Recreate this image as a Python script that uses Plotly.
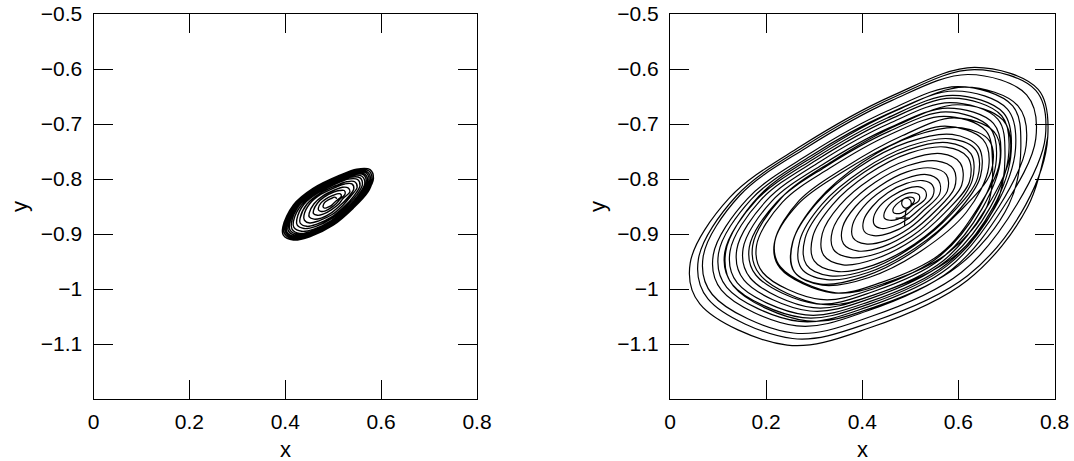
import plotly.graph_objects as go

# ---------------- data ----------------
x_ticks = [0, 0.2, 0.4, 0.6, 0.8]
x_tick_labels = ["0", "0.2", "0.4", "0.6", "0.8"]
y_ticks = [-1.1, -1.0, -0.9, -0.8, -0.7, -0.6, -0.5]
y_tick_labels = ["\u22121.1", "\u22121", "\u22120.9", "\u22120.8", "\u22120.7", "\u22120.6", "\u22120.5"]
x_title = "x"
y_title = "y"

# Left panel: orbit loops, inner -> outer
left_loops_x = [
    [0.507, 0.506, 0.502, 0.497, 0.488, 0.482, 0.479, 0.479, 0.482, 0.487, 0.495, 0.501, 0.506],
    [0.517, 0.515, 0.508, 0.499, 0.485, 0.475, 0.469, 0.470, 0.475, 0.484, 0.496, 0.506, 0.514],
    [0.525, 0.523, 0.513, 0.501, 0.481, 0.467, 0.459, 0.459, 0.467, 0.479, 0.496, 0.511, 0.521],
    [0.535, 0.531, 0.519, 0.503, 0.478, 0.460, 0.450, 0.450, 0.460, 0.475, 0.497, 0.516, 0.530],
    [0.543, 0.539, 0.524, 0.505, 0.474, 0.451, 0.439, 0.440, 0.451, 0.470, 0.497, 0.520, 0.537],
    [0.550, 0.545, 0.528, 0.506, 0.471, 0.445, 0.431, 0.431, 0.445, 0.466, 0.497, 0.523, 0.543],
    [0.556, 0.551, 0.532, 0.508, 0.469, 0.439, 0.424, 0.425, 0.439, 0.464, 0.498, 0.527, 0.549],
    [0.561, 0.556, 0.534, 0.508, 0.466, 0.434, 0.417, 0.418, 0.434, 0.460, 0.497, 0.529, 0.553],
    [0.566, 0.560, 0.537, 0.509, 0.464, 0.430, 0.413, 0.414, 0.430, 0.459, 0.498, 0.532, 0.557],
    [0.569, 0.563, 0.540, 0.510, 0.463, 0.428, 0.409, 0.410, 0.428, 0.457, 0.498, 0.534, 0.560],
    [0.572, 0.566, 0.542, 0.511, 0.462, 0.425, 0.406, 0.407, 0.425, 0.456, 0.499, 0.536, 0.563],
    [0.575, 0.569, 0.543, 0.512, 0.461, 0.423, 0.403, 0.404, 0.423, 0.455, 0.499, 0.537, 0.565],
    [0.578, 0.571, 0.545, 0.513, 0.460, 0.421, 0.400, 0.402, 0.421, 0.454, 0.499, 0.539, 0.568],
    [0.581, 0.574, 0.547, 0.513, 0.459, 0.419, 0.397, 0.399, 0.419, 0.452, 0.500, 0.540, 0.571],
    [0.584, 0.577, 0.549, 0.514, 0.458, 0.417, 0.395, 0.396, 0.417, 0.451, 0.500, 0.542, 0.573, 0.584],
]
left_loops_y = [
    [-0.836, -0.834, -0.833, -0.835, -0.839, -0.843, -0.849, -0.851, -0.853, -0.852, -0.849, -0.844, -0.840],
    [-0.831, -0.827, -0.827, -0.830, -0.836, -0.843, -0.853, -0.857, -0.859, -0.858, -0.852, -0.845, -0.837],
    [-0.827, -0.821, -0.821, -0.824, -0.833, -0.844, -0.857, -0.863, -0.866, -0.864, -0.856, -0.846, -0.835],
    [-0.823, -0.816, -0.815, -0.820, -0.831, -0.845, -0.862, -0.869, -0.873, -0.871, -0.861, -0.847, -0.834],
    [-0.818, -0.809, -0.809, -0.815, -0.828, -0.845, -0.866, -0.875, -0.880, -0.876, -0.865, -0.848, -0.831],
    [-0.815, -0.805, -0.805, -0.812, -0.827, -0.846, -0.871, -0.880, -0.886, -0.882, -0.869, -0.850, -0.831],
    [-0.812, -0.801, -0.800, -0.808, -0.825, -0.846, -0.874, -0.884, -0.890, -0.886, -0.871, -0.850, -0.829],
    [-0.810, -0.798, -0.797, -0.806, -0.824, -0.847, -0.877, -0.888, -0.895, -0.891, -0.875, -0.852, -0.829],
    [-0.808, -0.795, -0.794, -0.803, -0.823, -0.847, -0.879, -0.891, -0.899, -0.894, -0.877, -0.852, -0.827],
    [-0.806, -0.792, -0.792, -0.801, -0.821, -0.847, -0.881, -0.893, -0.901, -0.896, -0.878, -0.852, -0.826],
    [-0.805, -0.791, -0.790, -0.799, -0.821, -0.847, -0.882, -0.895, -0.903, -0.898, -0.879, -0.852, -0.826],
    [-0.803, -0.789, -0.788, -0.798, -0.820, -0.847, -0.883, -0.897, -0.905, -0.900, -0.880, -0.853, -0.825],
    [-0.802, -0.787, -0.786, -0.796, -0.819, -0.847, -0.884, -0.899, -0.907, -0.901, -0.881, -0.853, -0.824],
    [-0.800, -0.785, -0.784, -0.795, -0.818, -0.847, -0.886, -0.900, -0.909, -0.903, -0.883, -0.853, -0.824],
    [-0.799, -0.783, -0.782, -0.793, -0.817, -0.847, -0.887, -0.902, -0.911, -0.905, -0.884, -0.853, -0.823, -0.799],
]

# Right panel: start stem, then orbit loops, inner -> outer
right_start_x = [0.488, 0.489, 0.491]
right_start_y = [-0.884, -0.870, -0.857]
right_loops_x = [
    [0.492, 0.499, 0.502, 0.499, 0.492, 0.485, 0.482, 0.485, 0.492],
    [0.508, 0.507, 0.501, 0.491, 0.480, 0.470, 0.464, 0.465, 0.471, 0.481, 0.493, 0.502],
    [0.518, 0.518, 0.507, 0.490, 0.471, 0.455, 0.446, 0.446, 0.457, 0.474, 0.493, 0.509],
    [0.532, 0.531, 0.516, 0.491, 0.462, 0.437, 0.424, 0.425, 0.440, 0.465, 0.494, 0.519],
    [0.547, 0.546, 0.526, 0.492, 0.453, 0.421, 0.403, 0.404, 0.424, 0.458, 0.497, 0.529],
    [0.561, 0.559, 0.534, 0.491, 0.443, 0.402, 0.380, 0.381, 0.407, 0.449, 0.497, 0.538],
    [0.577, 0.575, 0.544, 0.493, 0.436, 0.386, 0.359, 0.361, 0.392, 0.443, 0.500, 0.550],
    [0.592, 0.590, 0.554, 0.494, 0.427, 0.370, 0.338, 0.340, 0.376, 0.436, 0.503, 0.560],
    [0.607, 0.604, 0.564, 0.496, 0.419, 0.353, 0.317, 0.320, 0.360, 0.428, 0.505, 0.571],
    [0.623, 0.620, 0.574, 0.498, 0.411, 0.338, 0.297, 0.300, 0.346, 0.422, 0.509, 0.582],
    [0.629, 0.626, 0.577, 0.495, 0.403, 0.324, 0.281, 0.284, 0.333, 0.415, 0.507, 0.586],
    [0.640, 0.637, 0.585, 0.498, 0.400, 0.316, 0.270, 0.273, 0.326, 0.412, 0.510, 0.594],
    [0.646, 0.642, 0.587, 0.495, 0.392, 0.303, 0.255, 0.258, 0.313, 0.405, 0.508, 0.597],
    [0.668, 0.665, 0.607, 0.510, 0.400, 0.307, 0.256, 0.259, 0.317, 0.414, 0.524, 0.617],
    [0.663, 0.651, 0.572, 0.470, 0.354, 0.266, 0.217, 0.229, 0.338, 0.440, 0.563, 0.638],
    [0.686, 0.674, 0.591, 0.484, 0.362, 0.269, 0.218, 0.230, 0.345, 0.452, 0.581, 0.660],
    [0.671, 0.657, 0.570, 0.458, 0.331, 0.234, 0.180, 0.193, 0.313, 0.425, 0.560, 0.643],
    [0.679, 0.665, 0.574, 0.457, 0.323, 0.222, 0.165, 0.179, 0.305, 0.422, 0.564, 0.650],
    [0.688, 0.673, 0.578, 0.456, 0.317, 0.211, 0.152, 0.167, 0.298, 0.420, 0.568, 0.658],
    [0.708, 0.693, 0.598, 0.476, 0.337, 0.231, 0.172, 0.187, 0.318, 0.440, 0.588, 0.678],
    [0.697, 0.682, 0.583, 0.456, 0.311, 0.201, 0.139, 0.154, 0.291, 0.418, 0.572, 0.666],
    [0.705, 0.690, 0.587, 0.454, 0.304, 0.189, 0.125, 0.140, 0.282, 0.415, 0.575, 0.672],
    [0.710, 0.694, 0.588, 0.452, 0.298, 0.180, 0.114, 0.130, 0.276, 0.412, 0.576, 0.676],
    [0.719, 0.702, 0.593, 0.452, 0.291, 0.169, 0.101, 0.118, 0.269, 0.410, 0.580, 0.684],
    [0.741, 0.724, 0.613, 0.470, 0.308, 0.184, 0.116, 0.132, 0.285, 0.428, 0.600, 0.705],
    [0.730, 0.713, 0.599, 0.453, 0.287, 0.161, 0.090, 0.107, 0.264, 0.410, 0.586, 0.694],
    [0.761, 0.742, 0.620, 0.462, 0.282, 0.145, 0.069, 0.088, 0.257, 0.415, 0.606, 0.722],
    [0.781, 0.761, 0.633, 0.469, 0.281, 0.139, 0.059, 0.079, 0.255, 0.420, 0.619, 0.740],
    [0.786, 0.766, 0.634, 0.464, 0.271, 0.124, 0.042, 0.062, 0.244, 0.414, 0.619, 0.744, 0.786],
]
right_loops_y = [
    [-0.853, -0.8505, -0.844, -0.8375, -0.835, -0.8375, -0.844, -0.8505, -0.853],
    [-0.841, -0.835, -0.833, -0.834, -0.840, -0.847, -0.855, -0.861, -0.863, -0.862, -0.856, -0.849],
    [-0.839, -0.829, -0.825, -0.827, -0.836, -0.848, -0.861, -0.871, -0.875, -0.873, -0.864, -0.852],
    [-0.835, -0.821, -0.814, -0.818, -0.831, -0.849, -0.869, -0.883, -0.890, -0.886, -0.873, -0.855],
    [-0.831, -0.811, -0.803, -0.808, -0.825, -0.850, -0.875, -0.895, -0.903, -0.898, -0.881, -0.856],
    [-0.827, -0.803, -0.792, -0.799, -0.820, -0.851, -0.883, -0.907, -0.918, -0.912, -0.890, -0.859],
    [-0.822, -0.792, -0.780, -0.787, -0.813, -0.850, -0.888, -0.918, -0.931, -0.923, -0.897, -0.860],
    [-0.816, -0.782, -0.767, -0.776, -0.806, -0.849, -0.894, -0.928, -0.943, -0.934, -0.904, -0.861],
    [-0.811, -0.771, -0.754, -0.765, -0.799, -0.848, -0.899, -0.939, -0.956, -0.945, -0.911, -0.862],
    [-0.805, -0.761, -0.742, -0.753, -0.792, -0.847, -0.905, -0.949, -0.968, -0.957, -0.918, -0.863],
    [-0.802, -0.754, -0.734, -0.747, -0.788, -0.847, -0.908, -0.956, -0.976, -0.964, -0.922, -0.863],
    [-0.798, -0.748, -0.727, -0.740, -0.784, -0.846, -0.912, -0.962, -0.983, -0.970, -0.926, -0.864],
    [-0.795, -0.742, -0.719, -0.733, -0.779, -0.846, -0.915, -0.968, -0.991, -0.977, -0.931, -0.864],
    [-0.787, -0.731, -0.707, -0.721, -0.770, -0.840, -0.913, -0.969, -0.993, -0.979, -0.930, -0.860],
    [-0.779, -0.728, -0.704, -0.734, -0.790, -0.846, -0.917, -0.962, -1.007, -0.988, -0.936, -0.856],
    [-0.769, -0.714, -0.689, -0.721, -0.780, -0.839, -0.914, -0.960, -1.007, -0.988, -0.933, -0.849],
    [-0.769, -0.712, -0.686, -0.719, -0.781, -0.842, -0.921, -0.970, -1.019, -0.999, -0.941, -0.853],
    [-0.765, -0.706, -0.678, -0.713, -0.778, -0.842, -0.924, -0.975, -1.027, -1.005, -0.945, -0.853],
    [-0.761, -0.699, -0.671, -0.707, -0.774, -0.841, -0.927, -0.980, -1.034, -1.012, -0.949, -0.853],
    [-0.755, -0.693, -0.665, -0.701, -0.768, -0.835, -0.921, -0.974, -1.028, -1.006, -0.943, -0.847],
    [-0.756, -0.691, -0.661, -0.699, -0.769, -0.839, -0.928, -0.984, -1.040, -1.017, -0.951, -0.852],
    [-0.752, -0.685, -0.653, -0.693, -0.766, -0.838, -0.931, -0.989, -1.047, -1.023, -0.955, -0.852],
    [-0.749, -0.680, -0.648, -0.689, -0.764, -0.838, -0.933, -0.992, -1.052, -1.028, -0.958, -0.852],
    [-0.744, -0.673, -0.640, -0.682, -0.759, -0.837, -0.935, -0.997, -1.059, -1.033, -0.961, -0.851],
    [-0.739, -0.667, -0.633, -0.676, -0.754, -0.832, -0.932, -0.995, -1.058, -1.032, -0.958, -0.847],
    [-0.741, -0.667, -0.632, -0.676, -0.756, -0.836, -0.938, -1.002, -1.067, -1.040, -0.965, -0.851],
    [-0.727, -0.647, -0.610, -0.657, -0.744, -0.830, -0.941, -1.010, -1.080, -1.051, -0.970, -0.846],
    [-0.723, -0.639, -0.601, -0.650, -0.740, -0.830, -0.946, -1.018, -1.090, -1.060, -0.976, -0.847],
    [-0.723, -0.637, -0.597, -0.648, -0.741, -0.834, -0.953, -1.027, -1.102, -1.071, -0.984, -0.851, -0.723],
]
right_cross_x = [0.484]
right_cross_y = [-0.871]

# ---------------- figure ----------------
def flatten(loops):
    out = []
    for lp in loops:
        out.extend(lp)
    return out

left_x = flatten(left_loops_x)
left_y = flatten(left_loops_y)
right_x = right_start_x + flatten(right_loops_x)
right_y = right_start_y + flatten(right_loops_y)

fig = go.Figure()
fig.add_trace(go.Scatter(x=left_x, y=left_y, mode="lines",
                         line=dict(color="black", width=1.4, shape="spline", smoothing=1.0),
                         xaxis="x", yaxis="y", showlegend=False, hoverinfo="skip"))
fig.add_trace(go.Scatter(x=right_x, y=right_y, mode="lines",
                         line=dict(color="black", width=1.2, shape="spline", smoothing=1.0),
                         xaxis="x2", yaxis="y2", showlegend=False, hoverinfo="skip"))
fig.add_trace(go.Scatter(x=right_cross_x, y=right_cross_y, mode="markers",
                         marker=dict(symbol="line-ew", size=10, color="black",
                                     line=dict(color="black", width=1.2)),
                         xaxis="x2", yaxis="y2", showlegend=False, hoverinfo="skip"))

font_family = "Liberation Sans, Arial, Helvetica, sans-serif"
tick_font = dict(family=font_family, size=21, color="black")
title_font = dict(family=font_family, size=22, color="black")

def xaxis(domain, anchor):
    return dict(domain=domain, anchor=anchor, range=[0, 0.8],
                tickvals=x_ticks, ticktext=x_tick_labels,
                ticks="inside", ticklen=19, tickwidth=1.2, tickcolor="black",
                showline=True, linecolor="black", linewidth=1.2, mirror="ticks",
                showgrid=False, zeroline=False, tickfont=tick_font,
                ticklabelstandoff=4, ticklabeloverflow="allow",
                automargin=False, fixedrange=True)

def yaxis(domain, anchor):
    return dict(domain=domain, anchor=anchor, range=[-1.2, -0.5],
                tickvals=y_ticks, ticktext=y_tick_labels,
                ticks="inside", ticklen=19, tickwidth=1.2, tickcolor="black",
                showline=True, linecolor="black", linewidth=1.2, mirror="ticks",
                showgrid=False, zeroline=False, tickfont=tick_font,
                ticklabelstandoff=6, ticklabeloverflow="allow",
                automargin=False, fixedrange=True)

W, H = 1074, 461
ydom = [1 - 399 / H, 1 - 14 / H]
left_dom = [93.5 / W, 477 / W]
right_dom = [670 / W, 1054.5 / W]

def title_annot(text, x, y, angle=0):
    return dict(text=text, x=x, y=y, xref="paper", yref="paper",
                xanchor="center", yanchor="middle", showarrow=False,
                textangle=angle, font=title_font)

fig.update_layout(
    width=W, height=H,
    margin=dict(l=0, r=0, t=0, b=0),
    paper_bgcolor="white", plot_bgcolor="white",
    xaxis=xaxis(left_dom, "y"),
    yaxis=yaxis(ydom, "x"),
    xaxis2=xaxis(right_dom, "y2"),
    yaxis2=yaxis(ydom, "x2"),
    annotations=[
        title_annot(x_title, (left_dom[0] + left_dom[1]) / 2, 1 - 449 / H),
        title_annot(x_title, (right_dom[0] + right_dom[1]) / 2, 1 - 449 / H),
        title_annot(y_title, 19 / W, 1 - 207 / H, -90),
        title_annot(y_title, 597 / W, 1 - 207 / H, -90),
    ],
)

fig.write_html("out.html", config={"displayModeBar": False},
               post_script="document.body.style.margin='0';")
